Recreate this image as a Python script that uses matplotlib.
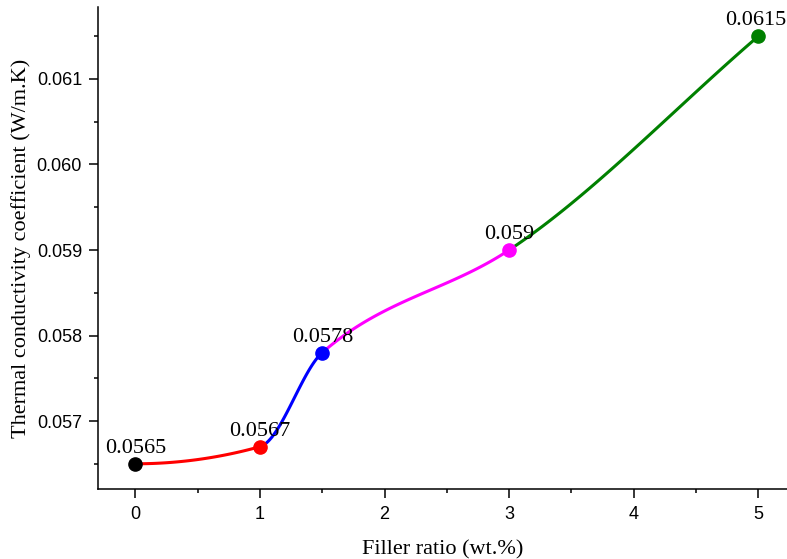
import matplotlib
matplotlib.use("Agg")
import matplotlib.pyplot as plt
import numpy as np
from matplotlib.ticker import MultipleLocator

# data
filler_ratio = [0, 1, 1.5, 3, 5]
conductivity = [0.0565, 0.0567, 0.0578, 0.059, 0.0615]
point_labels = ["0.0565", "0.0567", "0.0578", "0.059", "0.0615"]
point_colors = ["black", "red", "blue", "magenta", "#008000"]
segment_colors = ["red", "blue", "magenta", "#008000"]


def monotone_slopes(x, y):
    # Fritsch-Carlson (pchip) slopes, end slopes kept within the end chords
    h = np.diff(x)
    d = np.diff(y) / h
    m = np.zeros_like(y)
    for k in range(1, len(x) - 1):
        if d[k - 1] * d[k] <= 0:
            m[k] = 0.0
        else:
            w1 = 2 * h[k] + h[k - 1]
            w2 = h[k] + 2 * h[k - 1]
            m[k] = (w1 + w2) / (w1 / d[k - 1] + w2 / d[k])
    m0 = ((2 * h[0] + h[1]) * d[0] - h[0] * d[1]) / (h[0] + h[1])
    mn = ((2 * h[-1] + h[-2]) * d[-1] - h[-1] * d[-2]) / (h[-1] + h[-2])
    m[0] = min(max(m0, 0.0), d[0])
    m[-1] = min(max(mn, 0.0), d[-1])
    return m


def hermite_segment(x0, x1, y0, y1, m0, m1, n=60):
    t = np.linspace(0, 1, n)
    h = x1 - x0
    h00 = 2 * t**3 - 3 * t**2 + 1
    h10 = t**3 - 2 * t**2 + t
    h01 = -2 * t**3 + 3 * t**2
    h11 = t**3 - t**2
    return x0 + t * h, h00 * y0 + h10 * h * m0 + h01 * y1 + h11 * h * m1


x = np.array(filler_ratio, dtype=float)
y = np.array(conductivity, dtype=float)
slopes = monotone_slopes(x, y)

fig = plt.figure(figsize=(7.87, 5.59), dpi=100)
ax = fig.add_axes([0.1245, 0.1252, 0.8755, 0.8623])

for i, color in enumerate(segment_colors):
    xs, ys = hermite_segment(x[i], x[i + 1], y[i], y[i + 1], slopes[i], slopes[i + 1])
    ax.plot(xs, ys, color=color, linewidth=2.2, solid_capstyle="round", zorder=2)

for i, (xi, yi, c, lab) in enumerate(zip(filler_ratio, conductivity, point_colors, point_labels)):
    ax.plot(xi, yi, "o", color=c, markersize=9.5, zorder=3, clip_on=False)
    dx = -2 if i == len(filler_ratio) - 1 else 0
    ax.annotate(lab, (xi, yi), xytext=(dx, 8), textcoords="offset points",
                ha="center", va="baseline", fontsize=16, family="Liberation Serif",
                annotation_clip=False, zorder=4)

ax.set_xlim(-0.3, 5.23)
ax.set_ylim(0.056205, 0.061842)
ax.xaxis.set_major_locator(MultipleLocator(1))
ax.xaxis.set_minor_locator(MultipleLocator(0.5))
ax.yaxis.set_minor_locator(MultipleLocator(0.0005))
ax.set_yticks([0.057, 0.058, 0.059, 0.060, 0.061])
ax.set_yticklabels(["0.057", "0.058", "0.059", "0.060", "0.061"])

for side in ("top", "right"):
    ax.spines[side].set_visible(False)
for side in ("left", "bottom"):
    ax.spines[side].set_linewidth(1.1)

ax.tick_params(which="major", direction="out", length=6.5, width=1.1, labelsize=13)
ax.tick_params(which="minor", direction="out", length=3.2, width=1.1)
ax.tick_params(axis="x", which="major", pad=6)
ax.tick_params(axis="y", which="major", pad=5)
for lab in ax.get_xticklabels() + ax.get_yticklabels():
    lab.set_family("Liberation Sans")

ax.set_xlabel("Filler ratio (wt.%)", fontsize=16, family="Liberation Serif", labelpad=12)
ax.set_ylabel("Thermal conductivity coefficient (W/m.K)", fontsize=16,
              family="Liberation Serif", labelpad=4)

fig.savefig("out.png", dpi=100)
